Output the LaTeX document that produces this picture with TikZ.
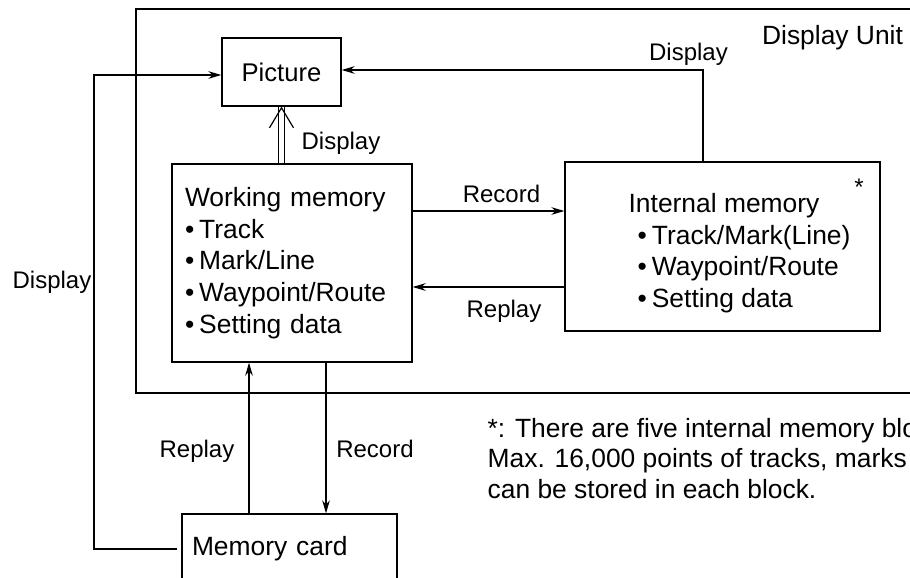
\documentclass[tikz,border=0pt]{standalone}
\usepackage{fontspec}
\setmainfont{Liberation Sans}
\usetikzlibrary{arrows.meta}

\begin{document}
\begin{tikzpicture}[x=0.5pt, y=-0.5pt, >={Stealth[length=6.5pt,width=3.8pt]},
    line width=0.65pt, font=\fontsize{13.2pt}{15.8pt}\selectfont,
    box/.style={draw, inner sep=0pt},
    lbl/.style={anchor=base, inner sep=0pt, font=\fontsize{12pt}{14pt}\selectfont}]
    \useasboundingbox (0,0) rectangle (910,578);

    % Display unit frame
    \draw[line width=1pt] (920,9) -- (136,9) -- (136,393) -- (920,393);
    \node[anchor=base, inner sep=0pt] (unit) at (832.5,44) {Display Unit};

    % Boxes
    \node[box, minimum width=59.5pt, minimum height=34pt, font=\fontsize{12.8pt}{15pt}\selectfont] (pic) at (281.5,72) {Picture};
    \node[box, minimum width=120pt, minimum height=99pt, text width=107pt, align=left] (wm) at (292,263)
        {Working memory\\
         \textbullet\hspace{2.5pt}Track\\
         \textbullet\hspace{2.5pt}Mark/Line\\
         \textbullet\hspace{2.5pt}Waypoint/Route\\
         \textbullet\hspace{2.5pt}Setting data};
    \node[box, minimum width=157.5pt, minimum height=84.5pt] (im) at (722.5,246.5) {};
    \node[anchor=north west, inner sep=0pt, align=left] (imtext) at (628,192.7)
        {Internal memory\\
         \hspace*{4.5pt}\textbullet\hspace{2.5pt}Track/Mark(Line)\\
         \hspace*{4.5pt}\textbullet\hspace{2.5pt}Waypoint/Route\\
         \hspace*{4.5pt}\textbullet\hspace{2.5pt}Setting data};
    \node[lbl] (star) at (859,195) {*};
    \node[box, minimum width=107.5pt, minimum height=35pt, text width=97.5pt, align=left] (mc) at (289.5,549) {Memory card};

    % Display paths
    \coordinate (dtop) at (703,70);
    \coordinate (dleft) at (94,75);
    \draw[->] (im.north -| dtop) -- (dtop) -- (pic.east |- dtop);
    \node[lbl] (lbltop) at (688.5,61) {Display};
    \draw[->, shorten <=2pt] (mc.west) -- (mc.west -| dleft) -- (dleft) -- (pic.west |- dleft);
    \node[lbl] (lblleft) at (52,288) {Display};
    \draw[double, double distance=2.6pt, line width=0.5pt] (pic.south |- wm.north) -- (pic.south);
    \draw[line width=0.6pt, -{Straight Barb[length=10pt,width=12pt]}] ([yshift=-1pt]pic.south) -- (pic.south);
    \node[lbl] (lblpic) at (341,149) {Display};

    % Internal memory
    \coordinate (rec) at ([yshift=26pt]wm.east);
    \coordinate (rep) at ([yshift=-12pt]wm.east);
    \draw[->] (rec) -- (rec -| im.west);
    \node[lbl] (lblrec) at (501.5,202) {Record};
    \draw[->] (rep -| im.west) -- (rep);
    \node[lbl] (lblrep) at (504,317) {Replay};

    % Memory card
    \coordinate (crep) at (249,450);
    \coordinate (crec) at (326,450);
    \draw[->] (mc.north -| crep) -- (wm.south -| crep);
    \draw[->] (wm.south -| crec) -- (mc.north -| crec);
    \node[lbl] (lblcrep) at (197,457) {Replay};
    \node[lbl] (lblcrec) at (375,457) {Record};

    % Note
    \node[anchor=north west, inner sep=0pt, align=left, font=\fontsize{13.2pt}{15.25pt}\selectfont] (note) at (487,417.7)
        {*: There are five internal memory blo\\
         Max. 16,000 points of tracks, marks\\
         can be stored in each block.};
\end{tikzpicture}
\end{document}
